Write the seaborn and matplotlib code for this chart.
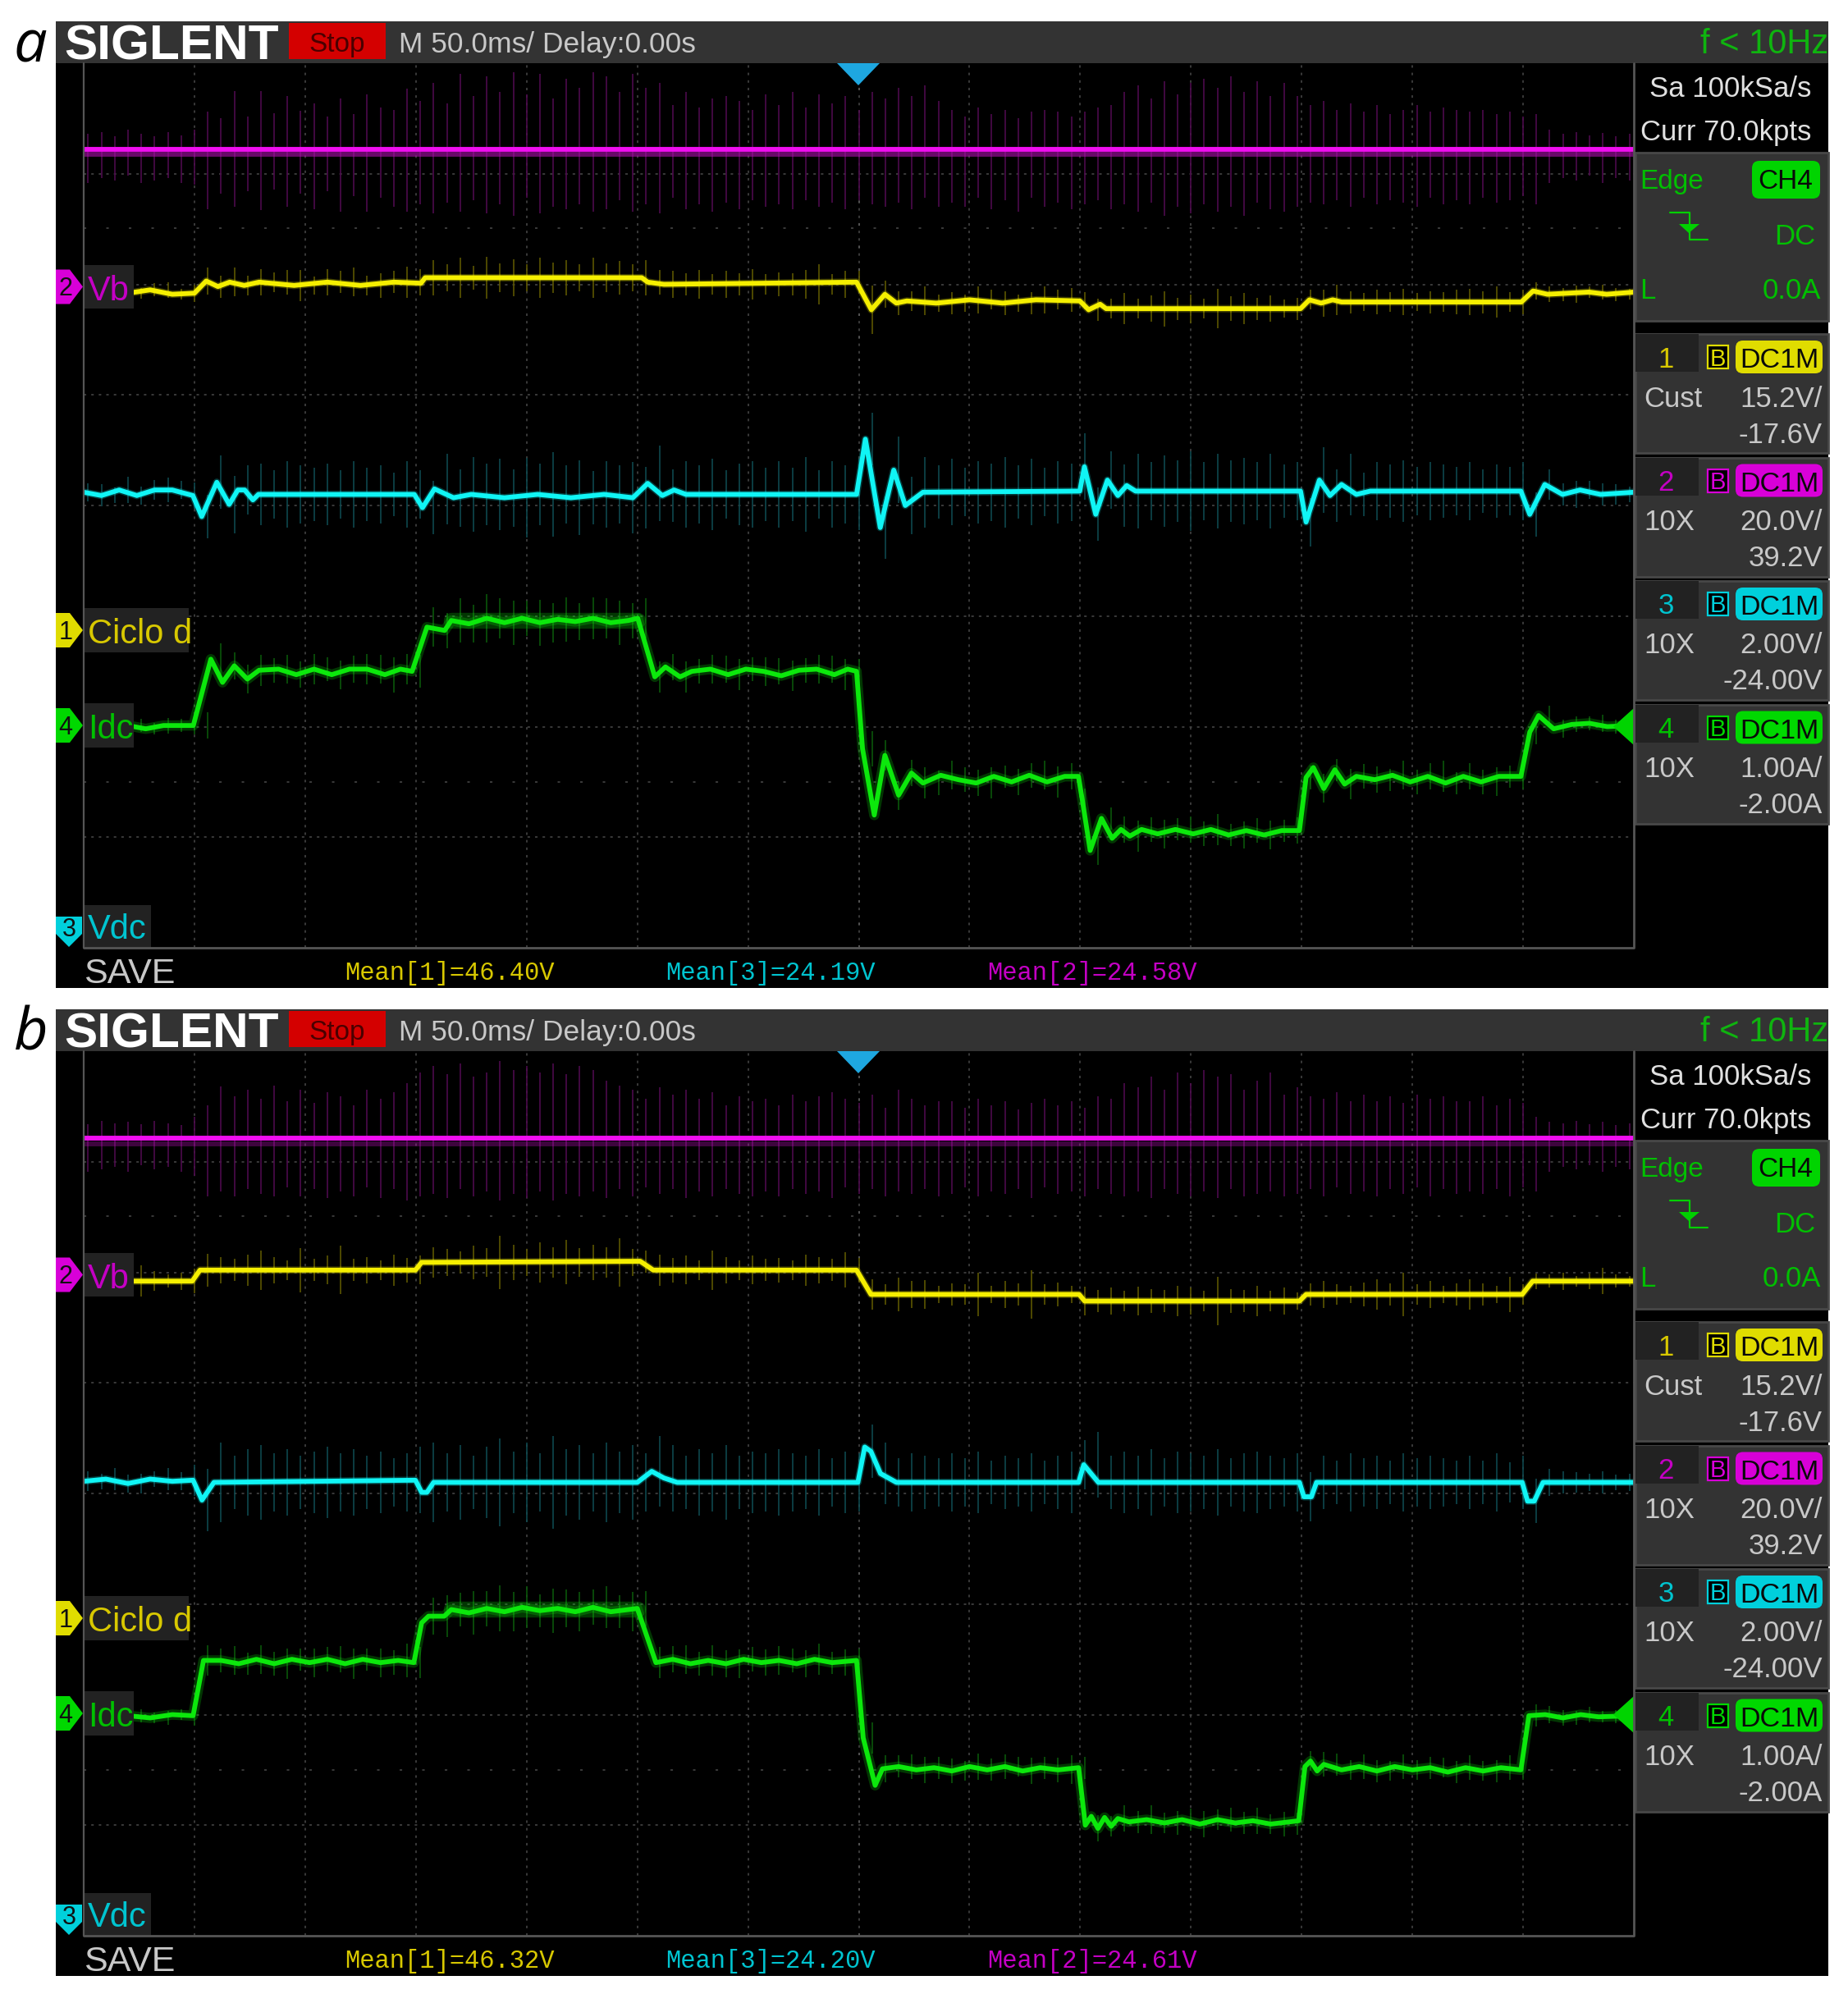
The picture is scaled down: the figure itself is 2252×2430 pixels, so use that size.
# -*- coding: utf-8 -*-
import numpy as np
import pandas as pd
import seaborn as sns
import matplotlib.pyplot as plt
from matplotlib.patches import Rectangle, Polygon, FancyBboxPatch

# traces: time in ms (50 ms/div, 14 div), level in screen divisions from the bottom (8 div)
ma_ms = [0, 700]
ma_div = [7.22, 7.22]
ya_ms = [0, 10, 20, 30, 40, 50, 55.3, 60.6, 65.9, 72.5, 79.2, 95, 110, 125, 140, 152.3, 154.2, 252, 254.7, 262, 349, 355.7,
         361.8, 367, 371.7, 385, 400, 415, 430, 449.8, 453.8, 459, 461.7, 549.5, 553.5, 558.8, 564, 568, 649.2, 654.5, 661,
         679.8, 687.7, 700]
ya_div = [5.92, 5.95, 5.92, 5.95, 5.91, 5.92, 6.03, 5.98, 6.02, 5.99, 6.02, 5.99, 6.02, 5.99, 6.02, 6.01, 6.06, 6.06, 6.02, 6.00, 6.02, 5.77,
          5.91, 5.83, 5.85, 5.83, 5.86, 5.83, 5.86, 5.85, 5.77, 5.82, 5.78, 5.78, 5.86, 5.83, 5.86, 5.84, 5.84, 5.94, 5.91,
          5.93, 5.91, 5.93]
ca_ms = [0, 8, 16, 24, 32, 40, 49.3, 53.3, 60.1, 65.7, 69.6, 72.7, 76.4, 78.9, 149.3, 153, 158.4, 167, 175, 190, 205, 220, 235, 248,
         254.7, 261.3, 266.6, 272, 349, 353, 359.7, 365.8, 371, 379, 449.8, 451.9, 457, 462.3, 467, 471, 475, 549.5, 552, 558,
         562.8, 568, 574.7, 581, 649, 653, 659.8, 667.8, 675.7, 685, 700]
ca_div = [4.12, 4.09, 4.14, 4.09, 4.14, 4.14, 4.09, 3.90, 4.21, 4.01, 4.14, 4.14, 4.05, 4.10, 4.10, 3.98, 4.15, 4.07, 4.10, 4.07, 4.10, 4.07, 4.10, 4.07,
          4.20, 4.09, 4.14, 4.10, 4.10, 4.60, 3.80, 4.32, 4.00, 4.12, 4.13, 4.35, 3.92, 4.23, 4.09, 4.18, 4.13, 4.13, 3.85, 4.23,
          4.09, 4.19, 4.10, 4.13, 4.13, 3.92, 4.19, 4.10, 4.14, 4.10, 4.12]
ga_ms = [0, 8, 14, 20, 28, 36, 44, 49.5,
         57.4, 62.7, 68, 73.9, 79.2, 88, 96, 104, 112, 120, 128, 136, 143, 148.3,
         155, 163, 166, 174, 182, 190, 198, 206, 214, 222, 230, 238, 246, 250.2,
         257.9, 262.7, 269.3, 274.6, 283, 291, 299, 307, 315, 323, 331, 339, 345, 349,
         351.7, 357, 361.8, 368, 373.8, 379, 387, 395, 403, 411, 419, 427, 435, 443, 449.2,
         451, 454.5, 459.6, 464.4, 468.4, 472.4, 477.7, 485, 493, 501, 509, 517, 525, 533, 541, 549,
         552, 555.3, 560, 565, 569.4, 574.7, 583, 591, 599, 607, 615, 623, 631, 639, 649,
         653, 657, 663.8, 672, 680, 688, 700]
ga_div = [2.01, 2.01, 2.04, 2.01, 1.98, 2.01, 2.01, 2.01,
          2.61, 2.40, 2.55, 2.43, 2.51, 2.52, 2.47, 2.52, 2.47, 2.52, 2.52, 2.47, 2.52, 2.50,
          2.90, 2.87, 2.96, 2.93, 2.98, 2.94, 2.98, 2.94, 2.97, 2.95, 2.98, 2.94, 2.96, 2.98,
          2.45, 2.54, 2.45, 2.50, 2.52, 2.47, 2.52, 2.50, 2.46, 2.51, 2.52, 2.47, 2.52, 2.50,
          1.80, 1.20, 1.74, 1.38, 1.58, 1.49, 1.56, 1.52, 1.49, 1.55, 1.50, 1.56, 1.50, 1.55, 1.55,
          1.33, 0.88, 1.17, 0.99, 1.07, 1.01, 1.07, 1.03, 1.07, 1.03, 1.07, 1.02, 1.06, 1.02, 1.06, 1.06,
          1.54, 1.63, 1.44, 1.61, 1.48, 1.55, 1.52, 1.56, 1.50, 1.55, 1.49, 1.55, 1.50, 1.55, 1.55,
          1.95, 2.10, 1.98, 2.02, 2.03, 2.00, 2.01]
ga_fuzz_ms = [166, 250]
ga_fuzz_div = [2.96, 2.96]

mb_ms = [0, 700]
mb_div = [7.21, 7.21]
yb_ms = [0, 49, 52.5, 149.8, 152.6, 155.7, 251.3, 257.2, 349, 355.5, 449.5, 452, 549, 552, 649.6, 654.3, 700]
yb_div = [5.92, 5.92, 6.02, 6.02, 6.09, 6.09, 6.10, 6.02, 6.02, 5.80, 5.80, 5.74, 5.74, 5.80, 5.80, 5.92, 5.92]
cb_ms = [0, 10, 20, 30, 40, 49.4, 53.4, 58.8, 149.8, 152.6, 155, 158, 250, 256.5, 262, 268, 349.6, 352.7, 355.5, 359.8, 367, 449.3,
         451.6, 458.2, 549, 551, 554.4, 556.7, 649.6, 652, 655, 659, 700]
cb_div = [4.11, 4.13, 4.09, 4.13, 4.11, 4.12, 3.94, 4.10, 4.12, 4.01, 4.01, 4.10, 4.10, 4.20, 4.14, 4.10, 4.10, 4.42, 4.38, 4.18, 4.10, 4.10,
          4.26, 4.10, 4.10, 3.97, 3.97, 4.10, 4.10, 3.93, 3.93, 4.10, 4.10]
gb_ms = [0, 10, 20, 30, 40, 49.4,
         54.1, 62, 70, 78, 86, 94, 102, 110, 118, 126, 134, 142, 149.1,
         152.6, 155.7, 162.8, 166, 174, 182, 190, 198, 206, 214, 222, 230, 238, 250,
         258.4, 266, 274, 282, 290, 298, 306, 314, 322, 330, 338, 349,
         352, 357.4, 360.7, 368, 376, 384, 392, 400, 408, 416, 424, 432, 440, 449.3,
         452.3, 455, 458, 461, 464, 467, 472, 480, 488, 496, 504, 512, 520, 528, 536, 548.7,
         551.5, 554, 557, 560, 568, 576, 584, 592, 600, 608, 616, 624, 632, 640, 649,
         652.6, 660, 668, 676, 684, 700]
gb_div = [1.99, 2.01, 1.99, 1.97, 2.00, 1.99,
          2.49, 2.49, 2.46, 2.50, 2.46, 2.50, 2.47, 2.50, 2.46, 2.50, 2.47, 2.49, 2.47,
          2.83, 2.89, 2.89, 2.95, 2.92, 2.96, 2.93, 2.97, 2.94, 2.96, 2.93, 2.97, 2.93, 2.96,
          2.47, 2.50, 2.46, 2.49, 2.46, 2.50, 2.47, 2.49, 2.46, 2.50, 2.47, 2.49,
          1.79, 1.36, 1.51, 1.53, 1.50, 1.52, 1.49, 1.53, 1.50, 1.53, 1.49, 1.52, 1.50, 1.52,
          1.00, 1.08, 0.97, 1.07, 0.99, 1.06, 1.03, 1.05, 1.02, 1.05, 1.01, 1.05, 1.02, 1.04, 1.01, 1.04,
          1.53, 1.58, 1.49, 1.55, 1.50, 1.53, 1.49, 1.53, 1.50, 1.52, 1.48, 1.52, 1.49, 1.52, 1.50,
          1.99, 2.00, 1.97, 2.00, 1.98, 1.99]
gb_fuzz_ms = [166, 250]
gb_fuzz_div = [2.95, 2.95]

# noise spikes, one row per 78 ms; heights in 1/100 div
spike_ms = [2, 8, 14, 20, 26, 32, 38, 44, 50, 56, 62, 68, 74,
            80, 86, 92, 98, 104, 110, 116, 122, 128, 134, 140, 146, 152,
            158, 164, 170, 176, 182, 188, 194, 200, 206, 212, 218, 224, 230,
            236, 242, 248, 254, 260, 266, 272, 278, 284, 290, 296, 302, 308,
            314, 320, 326, 332, 338, 344, 350, 356, 362, 368, 374, 380, 386,
            392, 398, 404, 410, 416, 422, 428, 434, 440, 446, 452, 458, 464,
            470, 476, 482, 488, 494, 500, 506, 512, 518, 524, 530, 536, 542,
            548, 554, 560, 566, 572, 578, 584, 590, 596, 602, 608, 614, 620,
            626, 632, 638, 644, 650, 656, 662, 668, 674, 680, 686, 692, 698]
ma_up = [14, 16, 12, 18, 14, 12, 16, 13, 18, 34, 28, 53, 30,
         53, 33, 48, 35, 42, 30, 46, 32, 50, 38, 36, 55, 44,
         60, 42, 68, 48, 66, 52, 70, 50, 68, 46, 64, 56, 70,
         66, 52, 68, 56, 60, 40, 52, 38, 46, 48, 44, 36, 50,
         40, 52, 38, 50, 42, 48, 36, 52, 46, 56, 48, 58, 44,
         36, 30, 38, 32, 36, 28, 34, 36, 34, 30, 34, 38, 40,
         52, 58, 46, 62, 50, 60, 64, 56, 66, 52, 62, 48, 60,
         48, 40, 44, 36, 42, 34, 40, 32, 36, 40, 34, 38, 36,
         34, 36, 32, 34, 30, 32, 18, 14, 16, 13, 15, 12, 14]
ma_down = [30, 26, 28, 24, 30, 28, 26, 30, 32, 54, 40, 52, 38,
           55, 36, 52, 40, 54, 38, 56, 42, 56, 44, 52, 56, 50,
           58, 48, 56, 46, 58, 50, 60, 44, 58, 52, 54, 50, 56,
           54, 46, 56, 50, 58, 44, 54, 50, 56, 48, 54, 46, 52,
           50, 54, 46, 52, 48, 54, 46, 50, 52, 48, 54, 44, 52,
           48, 52, 44, 54, 46, 56, 44, 52, 48, 54, 50, 46, 54,
           50, 56, 48, 60, 52, 58, 50, 56, 52, 60, 48, 54, 56,
           52, 48, 50, 46, 52, 44, 50, 46, 48, 52, 44, 50, 46,
           50, 44, 48, 46, 42, 50, 30, 26, 28, 24, 30, 26, 28]
mb_up = [13, 16, 14, 15, 13, 16, 14, 12, 20, 30, 47, 38, 44,
         36, 48, 34, 44, 32, 42, 38, 30, 44, 36, 42, 50, 60,
         66, 58, 68, 56, 60, 70, 62, 66, 60, 68, 58, 66, 62,
         52, 48, 44, 36, 46, 40, 44, 36, 42, 30, 38, 34, 36,
         30, 40, 34, 38, 42, 36, 32, 40, 28, 44, 36, 30, 34,
         34, 28, 36, 30, 34, 26, 32, 36, 30, 34, 28, 38, 36,
         50, 46, 56, 44, 60, 50, 62, 56, 58, 44, 52, 60, 40,
         46, 38, 36, 42, 34, 40, 34, 38, 32, 40, 36, 38, 34,
         34, 38, 30, 36, 32, 20, 15, 14, 16, 13, 15, 12, 14]
mb_down = [30, 28, 26, 30, 24, 28, 26, 30, 34, 52, 48, 52, 46,
           50, 52, 44, 52, 46, 54, 48, 52, 44, 54, 46, 56, 52,
           50, 54, 46, 52, 48, 56, 50, 54, 48, 56, 50, 52, 48,
           54, 46, 52, 44, 50, 46, 54, 48, 52, 46, 50, 52, 48,
           52, 46, 50, 48, 54, 44, 50, 46, 52, 48, 50, 46, 52,
           50, 44, 52, 48, 50, 46, 54, 44, 50, 48, 52, 46, 50,
           52, 48, 54, 46, 50, 52, 48, 54, 46, 52, 50, 48, 52,
           50, 46, 52, 44, 50, 48, 52, 46, 50, 44, 52, 46, 50,
           48, 50, 46, 52, 44, 48, 30, 26, 28, 24, 30, 26, 28]
ya_noise = [6, 5, 7, 6, 5, 6, 7, 5, 8, 12, 10, 13, 9,
            12, 9, 11, 14, 8, 12, 10, 13, 9, 11, 10, 14, 12,
            16, 12, 18, 11, 19, 13, 17, 12, 18, 14, 16, 12, 18,
            13, 15, 12, 16, 11, 12, 10, 13, 9, 12, 10, 14, 9,
            11, 10, 13, 18, 9, 12, 10, 22, 12, 11, 9, 13, 8,
            10, 8, 12, 9, 11, 8, 10, 12, 9, 11, 8, 10, 9,
            14, 9, 12, 16, 10, 13, 9, 18, 11, 14, 10, 12, 8,
            10, 9, 12, 14, 10, 8, 11, 9, 12, 8, 10, 9, 11,
            12, 10, 14, 9, 11, 8, 7, 6, 8, 5, 7, 6, 5]
yb_noise = [7, 6, 10, 8, 14, 9, 6, 8, 11, 15, 12, 10, 14,
            18, 12, 9, 20, 10, 13, 22, 10, 12, 9, 14, 11, 13,
            14, 12, 10, 15, 13, 24, 16, 12, 18, 14, 20, 13, 16,
            14, 22, 12, 10, 14, 11, 13, 9, 18, 12, 9, 13, 10,
            11, 9, 14, 12, 10, 16, 11, 14, 9, 15, 12, 13, 8,
            10, 9, 20, 8, 12, 10, 22, 9, 11, 8, 13, 10, 12,
            9, 13, 11, 10, 14, 12, 9, 22, 11, 10, 14, 9, 12,
            8, 10, 12, 9, 8, 11, 14, 10, 20, 9, 12, 8, 10,
            14, 10, 8, 16, 9, 7, 6, 8, 5, 7, 12, 6, 5]
ca_noise = [8, 10, 7, 12, 8, 9, 11, 8, 12, 20, 24, 26, 22,
            28, 22, 30, 26, 24, 28, 22, 30, 24, 26, 20, 30, 22,
            24, 32, 26, 34, 28, 32, 26, 36, 28, 38, 26, 34, 24,
            30, 26, 32, 28, 34, 24, 30, 26, 32, 22, 28, 30, 24,
            30, 24, 34, 22, 30, 26, 32, 24, 28, 30, 26, 32, 24,
            30, 22, 28, 26, 32, 24, 30, 22, 28, 26, 30, 24, 26,
            28, 34, 26, 32, 28, 36, 26, 34, 28, 30, 26, 34, 24,
            26, 22, 30, 24, 28, 20, 26, 24, 28, 22, 26, 24, 22,
            26, 20, 24, 22, 26, 20, 14, 10, 12, 8, 10, 9, 7]
cb_noise = [9, 7, 10, 8, 9, 7, 10, 8, 14, 28, 36, 24, 30,
            34, 26, 30, 24, 28, 32, 26, 30, 24, 28, 22, 26, 30,
            36, 26, 34, 24, 32, 40, 28, 36, 26, 42, 30, 34, 26,
            36, 28, 34, 26, 32, 30, 24, 30, 26, 34, 24, 28, 26,
            30, 26, 24, 30, 22, 28, 26, 24, 28, 22, 26, 24, 22,
            26, 22, 28, 20, 24, 22, 26, 20, 24, 28, 22, 30, 24,
            28, 24, 30, 22, 28, 26, 24, 30, 22, 26, 28, 24, 22,
            26, 22, 24, 20, 26, 22, 24, 20, 26, 22, 24, 22, 20,
            24, 20, 26, 18, 24, 20, 12, 10, 9, 8, 10, 7, 8]
ga_noise = [6, 5, 7, 5, 6, 5, 7, 6, 8, 12, 14, 12, 13,
            14, 11, 13, 12, 14, 11, 13, 12, 14, 13, 16, 14, 15,
            18, 16, 20, 17, 22, 18, 20, 16, 21, 18, 20, 17, 19,
            18, 20, 16, 18, 14, 12, 14, 11, 13, 12, 14, 11, 13,
            12, 14, 11, 13, 12, 14, 11, 16, 14, 13, 12, 14, 11,
            13, 11, 12, 14, 10, 12, 11, 13, 14, 12, 11, 13, 10,
            12, 14, 11, 13, 10, 12, 11, 14, 10, 12, 11, 13, 10,
            12, 11, 13, 10, 14, 11, 12, 10, 13, 11, 12, 14, 10,
            12, 11, 13, 10, 12, 11, 9, 8, 7, 6, 8, 6, 5]
gb_noise = [5, 6, 5, 7, 6, 5, 6, 5, 9, 14, 11, 13, 10,
            13, 11, 14, 10, 13, 11, 12, 14, 10, 13, 11, 15, 14,
            17, 19, 15, 20, 16, 21, 18, 19, 15, 20, 17, 18, 16,
            19, 15, 18, 16, 14, 12, 13, 11, 14, 12, 13, 11, 12,
            13, 11, 12, 14, 10, 12, 11, 14, 12, 10, 11, 12, 10,
            11, 9, 12, 10, 11, 9, 12, 10, 11, 13, 10, 12, 9,
            12, 10, 13, 9, 11, 10, 12, 9, 11, 10, 12, 9, 11,
            10, 9, 11, 10, 9, 11, 10, 9, 11, 9, 10, 9, 10,
            11, 9, 10, 11, 9, 10, 8, 7, 6, 7, 5, 6, 7]

means_a = ['Mean[1]=46.40V', 'Mean[3]=24.19V', 'Mean[2]=24.58V']
means_b = ['Mean[1]=46.32V', 'Mean[3]=24.20V', 'Mean[2]=24.61V']
block_titles = ['1', '2', '3', '4']
block_left = ['Cust', '10X', '10X', '10X']
block_scale = ['15.2V/', '20.0V/', '2.00V/', '1.00A/']
block_offset = ['-17.6V', '39.2V', '-24.00V', '-2.00A']

YELLOW, MAGENTA, CYAN, GREEN = '#f5ef00', '#f00ef0', '#10f5f5', '#0ce80c'
block_colors = ['#e0dc00', '#d800d8', '#00d0dc', '#00d800']
text_colors = ['#d8c800', '#c400c4', '#00c4d0', '#00c000']
GRAY = '#c8c8c8'
BAR = '#333333'
DPI = 100

sns.set_theme(style='dark', rc={'axes.facecolor': 'black', 'figure.facecolor': 'white'})
plt.rcParams['font.family'] = ['Liberation Sans', 'DejaVu Sans']

fig = plt.figure(figsize=(22.52, 24.30), dpi=DPI)
ov = fig.add_axes([0, 0, 1, 1], zorder=5)
ov.set_xlim(0, 2252)
ov.set_ylim(2430, 0)
ov.axis('off')
ov.patch.set_alpha(0)


def put(x, cy, s, size, color, ha='left', **kw):
    ov.text(x, cy + 0.5 * size, s, fontsize=size, color=color, ha=ha, va='baseline', **kw)


def rect(x0, y0, x1, y1, color, **kw):
    ov.add_patch(Rectangle((x0, y0), x1 - x0, y1 - y0, facecolor=color, edgecolor=kw.pop('edge', 'none'), **kw))


def pill(x0, y0, x1, y1, color):
    ov.add_patch(FancyBboxPatch((x0, y0), x1 - x0, y1 - y0, boxstyle='round,pad=0,rounding_size=9',
                                facecolor=color, edgecolor='none'))


def line(ax, ms, div, color, lw, alpha, zorder):
    df = pd.DataFrame({'ms': ms, 'div': div})
    sns.lineplot(data=df, x='ms', y='div', ax=ax, color=color, lw=lw, alpha=alpha, estimator=None,
                 errorbar=None, zorder=zorder, legend=False)


def trace(ax, ms, div, color, band, noise_up, noise_down, dim):
    # spikes sit on the last read point at or before them
    idx = np.searchsorted(ms, spike_ms, side='right') - 1
    level = np.array(div)[idx]
    ax.vlines(spike_ms, level - np.array(noise_down) / 100, level + np.array(noise_up) / 100,
              color=dim, lw=1.2, zorder=2)
    line(ax, ms, div, color, band, 0.24, 3)
    line(ax, ms, div, color, 4.2, 1, 4)


def scope(y0, letter, traces, fuzz, band_alpha, means):
    # y0 is the pixel offset of the whole screenshot
    ax = fig.add_axes([102 / 2252, 1 - (1155 + y0) / 2430, 1889 / 2252, 1078 / 2430], zorder=2)
    ax.set_xlim(0, 700)
    ax.set_ylim(0, 8)
    ax.set_xticks(np.arange(50, 700, 50))
    ax.set_yticks(np.arange(1, 8))
    ax.grid(True, color='#4a4a4a', lw=1.1, ls=(0, (2, 4)))
    ax.tick_params(length=0, labelleft=False, labelbottom=False)
    for s in ax.spines.values():
        s.set_visible(False)
    ax.hlines([6.51, 1.50], 0, 700, color='#4a4a4a', lw=1.1, ls=(0, (2, 16)))
    ax.vlines(350, 0, 8, color='#5a5a5a', lw=1.1, ls=(0, (2, 16)))
    for t in traces:
        trace(ax, *t)
    # the magenta band lies just under the bright line
    m_ms, m_div = traces[0][0], traces[0][1]
    line(ax, m_ms, np.array(m_div) - 0.045, '#b010b0', 4.3, band_alpha, 3)
    line(ax, fuzz[0], fuzz[1], GREEN, 14, 0.24, 3)
    ax.set_xlabel('')
    ax.set_ylabel('')

    # black body of the screenshot around the grid
    rect(68, y0 + 77, 102, y0 + 1204, 'black')
    rect(102, y0 + 1155, 1992, y0 + 1204, 'black')
    rect(1991, y0 + 77, 2228, y0 + 1204, 'black')
    ov.plot([102, 102], [y0 + 77, y0 + 1155], color='#555555', lw=1.6)
    ov.plot([102, 1991, 1991], [y0 + 1155, y0 + 1155, y0 + 77], color='#555555', lw=2)

    # header
    rect(68, y0 + 26, 2228, y0 + 77, BAR)
    put(78, y0 + 51, 'SIGLENT', 43.5, 'white', fontweight='bold')
    rect(352, y0 + 28, 470, y0 + 72, '#d40000')
    put(411, y0 + 51, 'Stop', 24, '#4a0000', ha='center')
    put(486, y0 + 51, 'M 50.0ms/ Delay:0.00s', 25.5, GRAY)
    put(2228, y0 + 50, 'f < 10Hz', 30, '#0fb40f', ha='right')
    ov.add_patch(Polygon([(1020, y0 + 77), (1072, y0 + 77), (1046, y0 + 104)], facecolor='#1ea7e0', edgecolor='none'))
    put(17, y0 + 50 + (0 if letter == 'a' else -1), letter, 52, 'black', fontstyle='italic',
        family=['Open Sans', 'DejaVu Sans'])

    # channel labels on the left edge
    labels = [('Vb', '2', 1, 323, 376, 163), ('Ciclo d', '1', 0, 741, 795, 230), ('Idc', '4', 3, 857, 911, 163)]
    for name, num, c, top, bot, right in labels:
        cy = (top + bot) / 2
        rect(102, y0 + top, right, y0 + bot, '#222222')
        ov.add_patch(Polygon([(68, y0 + cy - 21), (85, y0 + cy - 21), (101, y0 + cy), (85, y0 + cy + 21), (68, y0 + cy + 21)],
                             facecolor=block_colors[c], edgecolor='none'))
        put(80, y0 + cy, num, 22, '#101010', ha='center')
        put(107, y0 + cy + 1, name, 30, text_colors[c])
    rect(102, y0 + 1103, 184, y0 + 1155, '#222222')
    ov.add_patch(Polygon([(68, y0 + 1117), (100, y0 + 1117), (100, y0 + 1138), (84, y0 + 1154), (68, y0 + 1138)],
                         facecolor=block_colors[2], edgecolor='none'))
    put(84, y0 + 1130, '3', 22, '#101010', ha='center')
    put(107, y0 + 1129, 'Vdc', 30, text_colors[2])

    # bottom row
    put(102, y0 + 1182, 'SAVE', 31, GRAY)
    for x, s, c in zip([420, 811, 1203], means, [0, 2, 1]):
        put(x, y0 + 1183, s, 22, text_colors[c], family=['Liberation Mono', 'DejaVu Sans Mono'])

    # right column
    put(2207, y0 + 105, 'Sa 100kSa/s', 25, '#e0e0e0', ha='right')
    put(2207, y0 + 158, 'Curr 70.0kpts', 25, '#e0e0e0', ha='right')
    rect(1993, y0 + 186, 2228, y0 + 391, BAR, edge='#484848', lw=2)
    put(1998, y0 + 218, 'Edge', 24, '#00c000')
    pill(2135, y0 + 196, 2218, y0 + 242, '#00d400')
    put(2176, y0 + 218, 'CH4', 24, '#0a0a0a', ha='center')
    ov.plot([2035, 2059, 2059, 2081], [y0 + 259, y0 + 259, y0 + 292, y0 + 292], color='#00d000', lw=1.6)
    ov.add_patch(Polygon([(2046, y0 + 273), (2071, y0 + 273), (2058, y0 + 284)], facecolor='#00d000', edgecolor='none'))
    put(2212, y0 + 285, 'DC', 25, '#00c000', ha='right')
    put(1998, y0 + 352, 'L', 25, '#00c000')
    put(2219, y0 + 352, '0.0A', 25, '#00c000', ha='right')

    for i in range(4):
        top = y0 + 407 + i * 150.5
        rect(1993, top, 2228, top + 145, BAR, edge='#484848', lw=2)
        rect(1993, top, 2070, top + 46, '#222222')
        put(2030, top + 28, block_titles[i], 25, text_colors[i], ha='center')
        rect(2081, top + 14, 2106, top + 42, 'black', edge=block_colors[i], lw=1.6)
        put(2093.5, top + 28, 'B', 21, block_colors[i], ha='center')
        pill(2115, top + 8, 2221, top + 48, block_colors[i])
        put(2168, top + 29, 'DC1M', 24.5, '#0a0a0a', ha='center')
        put(2003, top + 76, block_left[i], 25, GRAY)
        put(2221, top + 76, block_scale[i], 25, GRAY, ha='right')
        put(2221, top + 120, block_offset[i], 25, GRAY, ha='right')
    ov.add_patch(Polygon([(1991, y0 + 863), (1966, y0 + 885.5), (1991, y0 + 908)], facecolor='#00d400', edgecolor='none'))


panel_a = [
    (ma_ms, ma_div, MAGENTA, 4.2, ma_up, ma_down, '#4c0a4c'),
    (ya_ms, ya_div, YELLOW, 6.5, ya_noise, ya_noise, '#5c5600'),
    (ca_ms, ca_div, CYAN, 6.5, ca_noise, ca_noise, '#0e484e'),
    (ga_ms, ga_div, GREEN, 9, ga_noise, ga_noise, '#0a560a'),
]
panel_b = [
    (mb_ms, mb_div, MAGENTA, 4.2, mb_up, mb_down, '#4c0a4c'),
    (yb_ms, yb_div, YELLOW, 6.5, yb_noise, yb_noise, '#5c5600'),
    (cb_ms, cb_div, CYAN, 6.5, cb_noise, cb_noise, '#0e484e'),
    (gb_ms, gb_div, GREEN, 9, gb_noise, gb_noise, '#0a560a'),
]
scope(0, 'a', panel_a, (ga_fuzz_ms, ga_fuzz_div), 0.6, means_a)
scope(1204, 'b', panel_b, (gb_fuzz_ms, gb_fuzz_div), 0.35, means_b)

fig.savefig('out.png', dpi=DPI)
